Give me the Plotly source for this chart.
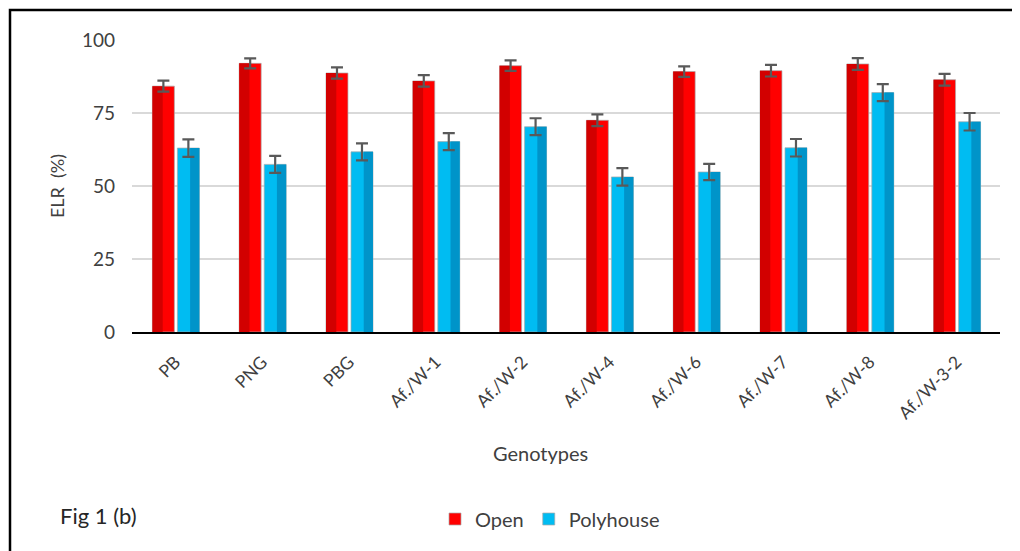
import plotly.graph_objects as go

genotypes = ['PB', 'PNG', 'PBG', 'Af./W-1', 'Af./W-2', 'Af./W-4',
             'Af./W-6', 'Af./W-7', 'Af./W-8', 'Af./W-3-2']
open_vals = [84.2, 92.0, 88.7, 86.0, 91.2, 72.5, 89.2, 89.5, 91.8, 86.4]
poly_vals = [63.0, 57.4, 61.7, 65.2, 70.3, 53.1, 54.8, 63.1, 82.0, 72.0]
open_err = [1.9, 1.7, 1.9, 2.0, 1.8, 2.0, 1.8, 2.0, 2.0, 2.0]
poly_err = [3.0, 2.9, 2.9, 2.9, 2.9, 3.0, 2.8, 3.0, 2.9, 3.0]

FONT = 'Lato'
TXT = '#404040'
BAR_W = 0.253

# page body adds an 8px margin, so work in screen pixels and shift back
PAD = 8
W, H = 1020 - PAD, 551 - PAD
L, R, T, B = 132 - PAD, 1000 - PAD, 40 - PAD, 332 - PAD


def px(x):
    return (x - PAD - L) / (R - L)


def py(y):
    return (B - (y - PAD)) / (B - T)


fig = go.Figure()

series = [
    ('Open', open_vals, open_err, -0.265, '#ff0000', '#d20000', 0.0, 0.47),
    ('Polyhouse', poly_vals, poly_err, 0.023, '#00bcf2', '#0094c9', 0.58, 0.42),
]
for name, vals, errs, off, col, shade, s_pos, s_w in series:
    fig.add_trace(go.Bar(
        x=genotypes, y=vals, name=name, offset=off, width=BAR_W,
        marker=dict(color=col, line=dict(color='rgba(170,170,170,0.7)', width=1)),
        hoverinfo='skip',
    ))
    # darker strip to mimic the bevelled look
    fig.add_trace(go.Bar(
        x=genotypes, y=vals, offset=off + BAR_W * s_pos, width=BAR_W * s_w,
        marker=dict(color=shade, line=dict(width=0)),
        showlegend=False, hoverinfo='skip',
    ))
    # error bars on a transparent carrier drawn on top
    fig.add_trace(go.Bar(
        x=genotypes, y=vals, offset=off, width=BAR_W,
        marker=dict(color='rgba(0,0,0,0)', line=dict(width=0)),
        error_y=dict(type='data', array=errs, color='#595959',
                     thickness=2.2, width=6),
        showlegend=False, hoverinfo='skip',
    ))

fig.update_layout(
    width=W, height=H,
    barmode='overlay',
    paper_bgcolor='white', plot_bgcolor='white',
    margin=dict(l=L, r=W - R, t=T, b=H - B),
    font=dict(family=FONT, size=16, color=TXT),
    legend=dict(orientation='h', x=px(550), xanchor='center',
                y=py(519), yanchor='middle', font=dict(size=20),
                itemwidth=30, traceorder='normal'),
    showlegend=True,
)
fig.update_yaxes(
    range=[0, 100], tickvals=[0, 25, 50, 75, 100],
    showgrid=True, gridcolor='#d9d9d9', gridwidth=1.5,
    zeroline=False, showline=False, ticks='',
    ticklabelstandoff=16, tickfont=dict(size=19),
    title=dict(text='ELR\u00a0 (%)', font=dict(size=18), standoff=12),
)
fig.update_xaxes(
    tickangle=-45, tickfont=dict(size=17.5), showgrid=False,
    showline=True, linecolor='black', linewidth=2,
    ticks='', ticklabelstandoff=11, range=[-0.5, 9.5],
)

fig.add_annotation(text='Genotypes', xref='paper', yref='paper',
                   x=px(540), y=py(453), xanchor='center', yanchor='middle',
                   showarrow=False, font=dict(size=20, color=TXT))
fig.add_annotation(text='Fig 1 (b)', xref='paper', yref='paper',
                   x=px(58), y=py(515), xanchor='left', yanchor='middle',
                   showarrow=False, font=dict(size=22, color='#262626'))

# outer frame, running past the right and bottom edges
fig.add_shape(type='rect', xref='paper', yref='paper',
              x0=px(10), y0=py(600), x1=px(1060), y1=py(10),
              line=dict(color='black', width=2.5))

fig.write_html('out.html')
